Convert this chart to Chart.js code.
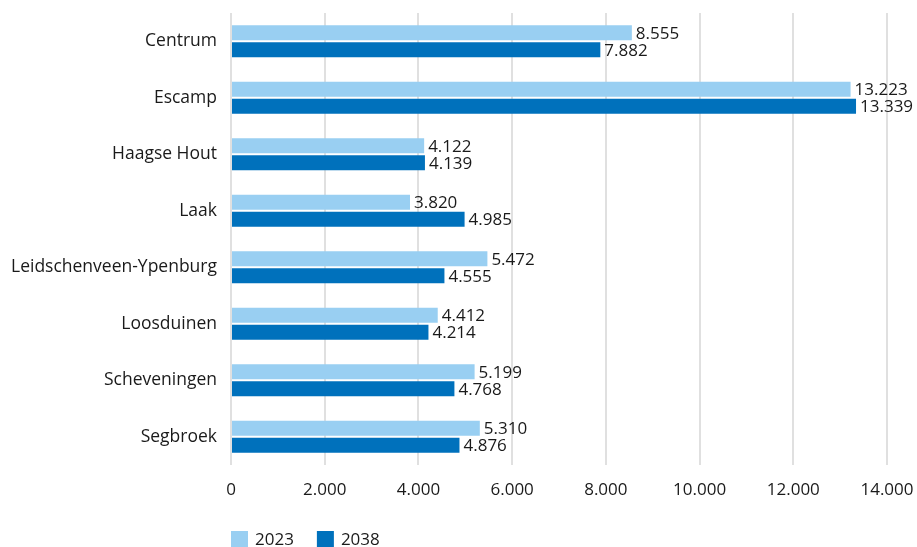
<!DOCTYPE html>
<html>
<head>
<meta charset="utf-8">
<script src="https://cdn.jsdelivr.net/npm/chart.js@4"></script>
<style>
  html, body { margin: 0; padding: 0; background: #fff; }
  #wrap { width: 917px; height: 547px; }
</style>
</head>
<body>
<div id="wrap"><canvas id="c" width="917" height="547"></canvas></div>
<script>
const categories = ['Centrum', 'Escamp', 'Haagse Hout', 'Laak', 'Leidschenveen-Ypenburg', 'Loosduinen', 'Scheveningen', 'Segbroek'];
const values2023 = [8555, 13223, 4122, 3820, 5472, 4412, 5199, 5310];
const values2038 = [7882, 13339, 4139, 4985, 4555, 4214, 4768, 4876];
const seriesLabels = ['2023', '2038'];
const seriesColors = ['#99cff2', '#0071bc'];

const FONT = '"Open Sans", "Noto Sans", sans-serif';
const TEXT = '#1a1a1a';
const nl = v => v.toLocaleString('nl-NL');

// Writes each bar's value just past its end
const valueLabels = {
  id: 'valueLabels',
  afterDatasetsDraw(chart) {
    const ctx = chart.ctx;
    ctx.save();
    ctx.font = '17px ' + FONT;
    ctx.fillStyle = TEXT;
    ctx.textBaseline = 'middle';
    ctx.textAlign = 'left';
    chart.data.datasets.forEach((ds, i) => {
      chart.getDatasetMeta(i).data.forEach((bar, j) => {
        ctx.fillText(nl(ds.data[j]), bar.x + 4, bar.y + 1);
      });
    });
    ctx.restore();
  }
};

// Legend row below the axis, starting at the plot's left edge
const bottomLegend = {
  id: 'bottomLegend',
  afterDraw(chart) {
    const ctx = chart.ctx;
    const y = 539;
    let x = chart.chartArea.left;
    ctx.save();
    ctx.font = '17px ' + FONT;
    ctx.textBaseline = 'middle';
    chart.data.datasets.forEach(ds => {
      ctx.fillStyle = ds.backgroundColor;
      ctx.fillRect(x, y - 8, 17, 17);
      ctx.fillStyle = TEXT;
      ctx.fillText(ds.label, x + 24, y + 1);
      x += 24 + ctx.measureText(ds.label).width + 23;
    });
    ctx.restore();
  }
};

new Chart(document.getElementById('c'), {
  type: 'bar',
  data: {
    labels: categories,
    datasets: [
      { label: seriesLabels[0], data: values2023, backgroundColor: seriesColors[0] },
      { label: seriesLabels[1], data: values2038, backgroundColor: seriesColors[1] }
    ]
  },
  options: {
    indexAxis: 'y',
    responsive: false,
    animation: false,
    devicePixelRatio: 1,
    layout: { padding: { top: 13, right: 30, bottom: 0, left: 0 } },
    datasets: { bar: { categoryPercentage: 0.6, barPercentage: 0.88 } },
    plugins: { legend: { display: false }, tooltip: { enabled: false } },
    scales: {
      x: {
        min: 0, max: 14000,
        ticks: { stepSize: 2000, callback: v => nl(v), color: TEXT, font: { family: FONT, size: 17 }, padding: 15 },
        grid: { color: '#e0e0e0', lineWidth: 2, drawTicks: false },
        border: { display: false },
        afterFit(scale) {
          scale.height = 82;
          scale.paddingLeft = 0;
          scale.paddingRight = 0;
        }
      },
      y: {
        ticks: { color: TEXT, font: { family: FONT, size: 17.5 }, padding: 14 },
        grid: { display: false, drawTicks: false },
        border: { display: false },
        afterFit(scale) {
          scale.width = 231;
          scale.paddingTop = 0;
          scale.paddingBottom = 0;
        }
      }
    }
  },
  plugins: [valueLabels, bottomLegend]
});
</script>
</body>
</html>
